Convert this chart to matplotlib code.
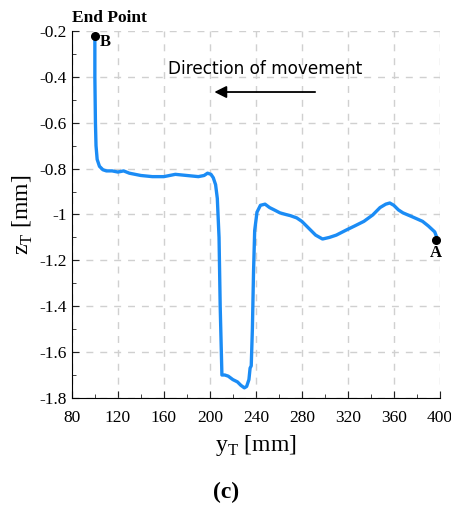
import numpy as np
import matplotlib
matplotlib.use('Agg')
import matplotlib.pyplot as plt
from matplotlib.ticker import MultipleLocator

plt.rcParams['axes.unicode_minus'] = False

# trace (y_T [mm], z_T [mm])
y_t = [100, 100, 100.5, 101, 102, 104, 107, 110, 115, 120, 125, 130, 140, 150, 160,
       165, 170, 180, 190, 195, 198, 201, 203, 205, 206.5, 208, 209, 210.5, 213,
       216, 220, 224, 227, 230, 232, 234, 235, 236, 237, 238, 239, 241, 244, 248,
       252, 256, 261, 266, 270, 275.6, 280, 286, 292, 298, 304, 310, 319, 326, 334,
       341.7, 348, 353, 356.5, 360, 364, 368, 376, 385, 390, 395.6, 397]
z_t = [-0.22, -0.4, -0.6, -0.7, -0.76, -0.79, -0.805, -0.81, -0.81, -0.815, -0.81,
       -0.82, -0.83, -0.835, -0.835, -0.83, -0.825, -0.83, -0.835, -0.83, -0.82,
       -0.825, -0.84, -0.87, -0.93, -1.1, -1.4, -1.70, -1.70, -1.705, -1.72, -1.73,
       -1.745, -1.756, -1.75, -1.72, -1.67, -1.66, -1.5, -1.25, -1.07, -0.99, -0.96,
       -0.955, -0.97, -0.98, -0.993, -1.0, -1.005, -1.015, -1.03, -1.06, -1.09,
       -1.107, -1.1, -1.09, -1.067, -1.05, -1.03, -1.002, -0.97, -0.955, -0.95,
       -0.96, -0.98, -0.993, -1.01, -1.03, -1.05, -1.076, -1.095]
point_a = (397, -1.11)
point_b = (100, -0.22)

x_ticks = np.arange(80, 401, 40)
y_ticks = np.arange(-1.8, -0.19, 0.2)
y_labels = ['-1.8', '-1.6', '-1.4', '-1.2', '-1', '-0.8', '-0.6', '-0.4', '-0.2']

serif = 'Liberation Serif'

fig = plt.figure(figsize=(4.52, 5.05), dpi=100)
ax = fig.add_axes([0.159, 0.212, 0.814, 0.7266])

ax.plot(y_t, z_t, color='#1b8cf5', lw=2.4, solid_joinstyle='round', zorder=3)
ax.plot(*point_a, 'o', color='black', ms=5.5, zorder=4)
ax.plot(*point_b, 'o', color='black', ms=5.5, zorder=4)

ax.set_xlim(80, 400)
ax.set_ylim(-1.8, -0.2)
ax.set_xticks(x_ticks)
ax.set_yticks(y_ticks)
ax.set_yticklabels(y_labels)
ax.xaxis.set_minor_locator(MultipleLocator(20))
ax.yaxis.set_minor_locator(MultipleLocator(0.1))
ax.tick_params(which='both', direction='in', labelsize=12.5, color='#222222')
ax.tick_params(which='major', length=5)
ax.tick_params(which='minor', length=3)
for lab in ax.get_xticklabels() + ax.get_yticklabels():
    lab.set_family(serif)
ax.tick_params(axis='x', pad=9)

for s in ['top', 'right']:
    ax.spines[s].set_visible(False)
ax.grid(True, which='major', ls=(0, (5, 5)), color='#d0d0d0', lw=1)
ax.set_axisbelow(True)

ax.set_xlabel(r'y$_\mathregular{T}$ [mm]', family=serif, fontsize=17, labelpad=5)
ax.set_ylabel(r'z$_\mathregular{T}$ [mm]', family=serif, fontsize=17, labelpad=3)

ax.annotate('', xy=(201.5, -0.466), xytext=(294, -0.466),
            arrowprops=dict(arrowstyle='-|>', color='black', lw=1.3,
                            mutation_scale=18))
ax.text(248, -0.365, 'Direction of movement', ha='center', va='center',
        fontsize=12.2, family='DejaVu Sans')
ax.text(113, -0.145, 'End Point', ha='center', va='center', fontsize=12.5,
        family=serif, fontweight='bold', clip_on=False)
ax.text(104, -0.25, 'B', ha='left', va='center', fontsize=12,
        family=serif, fontweight='bold')
ax.text(396.5, -1.17, 'A', ha='center', va='center', fontsize=12,
        family=serif, fontweight='bold')

fig.text(0.5, 0.024, '(c)', ha='center', va='center', fontsize=17,
         family=serif, fontweight='bold')

fig.savefig('out.png', dpi=100)
